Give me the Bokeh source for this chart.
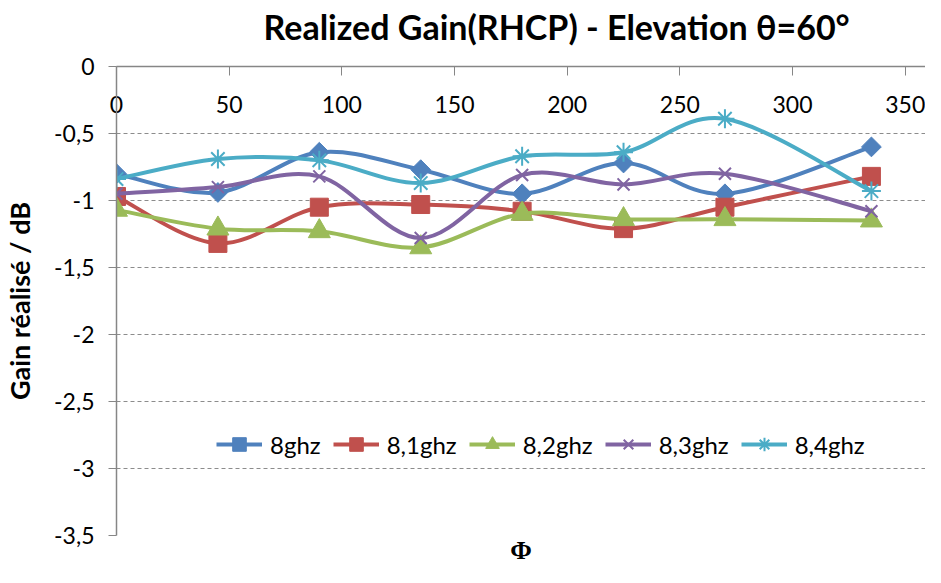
from bokeh.plotting import figure
from bokeh.models import (Range1d, FixedTicker, Legend, LegendItem, Title, LinearAxis,
                          CustomJSTickFormatter)
from bokeh.embed import file_html
from bokeh.resources import INLINE
import math

# ---- data ----
phi = [0, 45, 90, 135, 180, 225, 270, 335]
g_8 = [-0.80, -0.94, -0.64, -0.77, -0.95, -0.72, -0.95, -0.60]
g_81 = [-0.97, -1.32, -1.05, -1.03, -1.08, -1.21, -1.05, -0.82]
g_82 = [-1.07, -1.21, -1.23, -1.35, -1.10, -1.14, -1.14, -1.15]
g_83 = [-0.95, -0.90, -0.82, -1.28, -0.81, -0.88, -0.80, -1.08]
g_84 = [-0.84, -0.69, -0.70, -0.87, -0.67, -0.64, -0.39, -0.93]
labels = ["8ghz", "8,1ghz", "8,2ghz", "8,3ghz", "8,4ghz"]
x_ticks = [0, 50, 100, 150, 200, 250, 300, 350]
y_ticks = [0, -0.5, -1, -1.5, -2, -2.5, -3, -3.5]

colors = ["#4F81BD", "#C0504D", "#9BBB59", "#8064A2", "#4BACC6"]
markers = [("square", 14, math.pi / 4, 1), ("square", 18, 0, 1), ("triangle", 22, 0, 1),
           ("x", 17, 0, 2), ("asterisk", 19, 0, 2)]
series = [g_8, g_81, g_82, g_83, g_84]

FONT = "Lato"

p = figure(width=925, height=567, output_backend="svg", toolbar_location=None,
           x_range=Range1d(0, 359), y_range=Range1d(-3.5, 0),
           x_axis_location="above", title=None,
           min_border_left=113, min_border_top=66, min_border_right=0, min_border_bottom=26)
p.outline_line_color = None
p.background_fill_color = "white"

# x axis on the top edge (y = 0), ticks and labels pointing down into the frame
xa = p.xaxis[0]
xa.ticker = FixedTicker(ticks=x_ticks)
xa.axis_line_color = "#868686"
xa.axis_line_width = 1.5
xa.major_tick_line_color = "#868686"
xa.major_tick_in = 9
xa.major_tick_out = 0
xa.minor_tick_line_color = None
xa.major_label_standoff = -46
xa.major_label_text_font = FONT
xa.major_label_text_font_size = "23px"
xa.major_label_text_color = "black"

# spacer between the heading and the frame, then the heading itself
p.add_layout(Title(text=" ", text_font_size="1px", standoff=16), "above")
p.add_layout(Title(text="Realized Gain(RHCP) -  Elevation \u03b8=60\u00b0", align="left",
                   offset=147, standoff=2, text_font=FONT, text_font_size="34px",
                   text_font_style="bold", text_color="black"), "above")

# Φ axis title under the frame
phi_axis = LinearAxis(ticker=FixedTicker(ticks=[]), axis_line_color=None,
                      major_tick_in=0, major_tick_out=0, minor_tick_line_color=None,
                      axis_label="\u03a6", axis_label_standoff=0,
                      axis_label_text_font="Liberation Serif", axis_label_text_font_size="26px",
                      axis_label_text_font_style="bold", axis_label_text_color="black")
p.add_layout(phi_axis, "below")

# y axis
ya = p.yaxis[0]
ya.ticker = FixedTicker(ticks=y_ticks)
ya.formatter = CustomJSTickFormatter(code="return String(tick).replace('.', ',');")
ya.axis_line_color = "#868686"
ya.axis_line_width = 1.5
ya.major_tick_line_color = "#868686"
ya.major_tick_in = 0
ya.major_tick_out = 8
ya.minor_tick_line_color = None
ya.major_label_standoff = 14
ya.major_label_text_font = FONT
ya.major_label_text_font_size = "23px"
ya.major_label_text_color = "black"
ya.axis_label = "Gain réalisé / dB"
ya.axis_label_text_font = FONT
ya.axis_label_text_font_size = "27px"
ya.axis_label_text_font_style = "bold"
ya.axis_label_text_color = "black"
ya.axis_label_standoff = 15

p.xgrid.visible = False
p.ygrid.ticker = FixedTicker(ticks=y_ticks)
p.ygrid.grid_line_color = "#8c8c8c"
p.ygrid.grid_line_dash = "4 3"
p.ygrid.grid_line_width = 1


def smooth_segments(xs, ys):
    n = len(xs)
    x0, y0, x1, y1, cx0, cy0, cx1, cy1 = [], [], [], [], [], [], [], []
    for i in range(n - 1):
        a = i - 1 if i > 0 else i
        d = i + 2 if i + 2 < n else i + 1
        x0.append(xs[i]); y0.append(ys[i])
        x1.append(xs[i + 1]); y1.append(ys[i + 1])
        cx0.append(xs[i] + (xs[i + 1] - xs[a]) / 6.0)
        cy0.append(ys[i] + (ys[i + 1] - ys[a]) / 6.0)
        cx1.append(xs[i + 1] - (xs[d] - xs[i]) / 6.0)
        cy1.append(ys[i + 1] - (ys[d] - ys[i]) / 6.0)
    return dict(x0=x0, y0=y0, x1=x1, y1=y1, cx0=cx0, cy0=cy0, cx1=cx1, cy1=cy1)


items = []
for lab, vals, col, (mk, ms, ang, mlw) in zip(labels, series, colors, markers):
    seg = smooth_segments(phi, vals)
    bz = p.bezier(line_color=col, line_width=4, **seg)
    sc = p.scatter(phi, vals, marker=mk, size=ms, angle=ang, fill_color=col,
                   line_color=col, line_width=mlw)
    items.append(LegendItem(label=lab, renderers=[bz, sc]))

legend = Legend(items=items, orientation="horizontal", location=(100, 74),
                glyph_width=46, glyph_height=34, label_standoff=8, spacing=12,
                padding=0, margin=0, border_line_alpha=0, background_fill_alpha=0,
                label_text_font=FONT, label_text_font_size="24px", label_text_color="black")
p.add_layout(legend)

open("out.html", "w").write(file_html(p, INLINE))
